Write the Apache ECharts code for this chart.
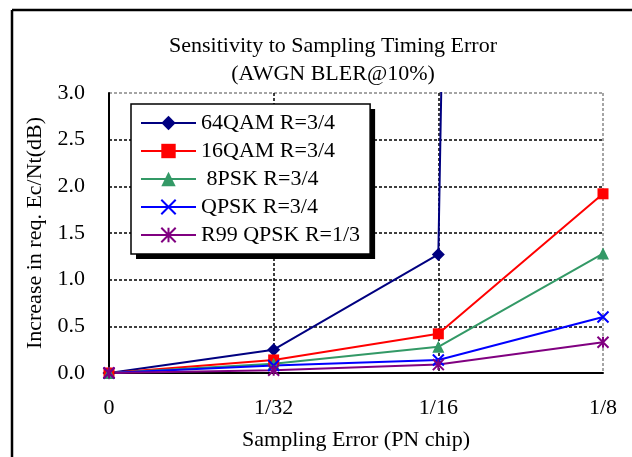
<!DOCTYPE html>
<html>
<head>
<meta charset="utf-8">
<script src="https://cdn.jsdelivr.net/npm/echarts@6/dist/echarts.min.js"></script>
<style>
  html, body { margin: 0; padding: 0; background: #fff; overflow: hidden; }
  #main { width: 632px; height: 457px; }
</style>
</head>
<body>
<div id="main"></div>
<script>
// x categories (sampling error in PN chip)
var categories = ['0', '1/32', '1/16', '1/8'];
var yTicks = [0, 0.5, 1.0, 1.5, 2.0, 2.5, 3.0];

// increase in required Ec/Nt (dB)
var qam64 = [0, 0.25, 1.27, 100];   // last point goes off the top
var qam16 = [0, 0.14, 0.42, 1.92];
var psk8 = [0, 0.10, 0.28, 1.28];
var qpsk = [0, 0.08, 0.14, 0.60];
var r99 = [0, 0.03, 0.09, 0.33];

var names = ['64QAM R=3/4', '16QAM R=3/4', ' 8PSK R=3/4', 'QPSK R=3/4', 'R99 QPSK R=1/3'];

var font = 'Liberation Serif';
var fs = 22;
var xSymbol = 'path://M0,0L10,10M10,0L0,10';
var starSymbol = 'path://M0,0L10,10M10,0L0,10M5,0L5,10';

var chart = echarts.init(document.getElementById('main'));

function mk(name, data, color, symbol, size, stroke) {
  var s = {
    name: name,
    type: 'line',
    data: data,
    symbol: symbol,
    symbolSize: size,
    showAllSymbol: true,
    lineStyle: { color: color, width: 2 },
    itemStyle: { color: color },
    emphasis: { disabled: true },
    animation: false
  };
  if (stroke) {
    s.itemStyle = { color: 'rgba(0,0,0,0)', borderColor: color, borderWidth: 2 };
  }
  return s;
}

// shared legend layout; the first copy only paints the white box + shadow
var legendBase = {
  orient: 'vertical',
  left: 131,
  top: 104,
  padding: [8, 10, 8, 9],
  itemWidth: 55,
  itemHeight: 18,
  itemGap: 6,
  textStyle: { fontFamily: font, fontSize: fs, color: '#000', lineHeight: 22 },
  data: names,
  selectedMode: false
};

var legendShadow = Object.assign({}, legendBase, {
  backgroundColor: '#fff',
  borderWidth: 0,
  shadowColor: '#000',
  shadowBlur: 0,
  shadowOffsetX: 5,
  shadowOffsetY: 5,
  textStyle: Object.assign({}, legendBase.textStyle, { color: 'rgba(0,0,0,0)' }),
  itemStyle: { opacity: 0 },
  lineStyle: { opacity: 0 }
});

var legendFront = Object.assign({}, legendBase, {
  backgroundColor: 'rgba(0,0,0,0)',
  borderColor: '#000',
  borderWidth: 1.5
});

var option = {
  animation: false,
  title: {
    text: 'Sensitivity to Sampling Timing Error\n(AWGN BLER@10%)',
    left: 328,
    top: 27,
    textAlign: 'center',
    textStyle: { fontFamily: font, fontSize: fs, fontWeight: 'normal', color: '#000', lineHeight: 28 }
  },
  legend: [legendShadow, legendFront],
  grid: { left: 109, right: 29, top: 93, bottom: 84 },
  xAxis: {
    type: 'category',
    data: categories,
    boundaryGap: false,
    name: 'Sampling Error (PN chip)',
    nameLocation: 'middle',
    nameGap: 56,
    nameTextStyle: { fontFamily: font, fontSize: fs, color: '#000' },
    axisLine: { lineStyle: { color: '#000', width: 2 } },
    axisTick: { show: false },
    axisLabel: { fontFamily: font, fontSize: fs, color: '#000', margin: 24 },
    splitLine: { show: true, lineStyle: { color: ['#000', '#000', '#000', '#888'], width: 1.5, type: [3, 2] } }
  },
  yAxis: {
    type: 'value',
    min: yTicks[0],
    max: yTicks[yTicks.length - 1],
    interval: 0.5,
    name: 'Increase in req. Ec/Nt(dB)',
    nameLocation: 'middle',
    nameGap: 63,
    nameTextStyle: { fontFamily: font, fontSize: fs, color: '#000' },
    axisLine: { show: true, lineStyle: { color: '#000', width: 2 } },
    axisTick: { show: false },
    axisLabel: { fontFamily: font, fontSize: fs, color: '#000', margin: 24, formatter: function (v) { return v.toFixed(1); } },
    splitLine: { show: true, lineStyle: { color: ['#000', '#000', '#000', '#000', '#000', '#000', '#888'], width: 1.5, type: [3, 2] } }
  },
  graphic: [
    { type: 'line', shape: { x1: 12, y1: 10, x2: 12, y2: 470 }, style: { stroke: '#000', lineWidth: 2.5 }, silent: true },
    { type: 'line', shape: { x1: 12, y1: 10, x2: 660, y2: 10 }, style: { stroke: '#000', lineWidth: 2.5 }, silent: true }
  ],
  series: [
    mk(names[0], qam64, '#000080', 'diamond', 13),
    mk(names[1], qam16, '#ff0000', 'rect', 11),
    mk(names[2], psk8, '#339966', 'triangle', 12),
    mk(names[3], qpsk, '#0000ff', xSymbol, 11, true),
    mk(names[4], r99, '#800080', starSymbol, 11, true)
  ]
};

chart.setOption(option);
</script>
</body>
</html>
